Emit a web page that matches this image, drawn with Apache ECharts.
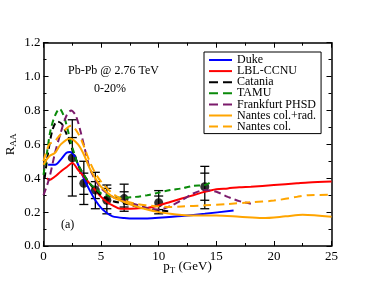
<!DOCTYPE html>
<html><head><meta charset="utf-8">
<script src="https://cdn.jsdelivr.net/npm/echarts@6/dist/echarts.min.js"></script>
<style>html,body{margin:0;padding:0;background:#fff}#c{width:374px;height:289px}</style>
</head><body><div id="c"></div>
<script>
const xTicks = [0,5,10,15,20,25];
const yTicks = [0.0,0.2,0.4,0.6,0.8,1.0,1.2];
const seriesNames = ["Duke","LBL-CCNU","Catania","TAMU","Frankfurt PHSD","Nantes col.+rad.","Nantes col."];
const duke = [[0.4,0.48],[1,0.48],[1.5,0.51],[2,0.55],[2.3,0.555],[2.7,0.53],[3,0.48],[3.5,0.40],[4,0.33],[4.5,0.27],[5,0.225],[5.5,0.195],[6,0.175],[7,0.165],[8,0.162],[9,0.163],[10,0.167],[12,0.177],[14,0.19],[16.5,0.21]];
const lbl = [[0.3,0.4],[0.5,0.39],[1,0.41],[1.5,0.44],[2,0.465],[2.5,0.49],[3,0.45],[3.5,0.41],[4,0.37],[4.5,0.33],[5,0.29],[5.5,0.26],[6,0.24],[6.7,0.22],[8,0.222],[9,0.225],[10,0.24],[11,0.26],[12,0.28],[13,0.3],[14,0.32],[15,0.335],[16,0.34],[17,0.347],[18,0.35],[20,0.36],[22,0.37],[23,0.375],[25,0.38]];
const catania = [[0.1,0.4],[0.4,0.55],[0.8,0.69],[1.2,0.735],[1.6,0.72],[2,0.66],[2.5,0.57],[3,0.48],[3.5,0.42],[4,0.37],[4.5,0.33],[5,0.3],[5.5,0.28],[6,0.265],[7,0.25],[8,0.235],[9,0.22],[10,0.21],[11,0.205]];
const tamu = [[0,0.42],[0.3,0.55],[0.6,0.68],[1,0.77],[1.4,0.81],[1.8,0.76],[2.2,0.66],[2.6,0.56],[3,0.48],[3.5,0.42],[4,0.37],[4.5,0.34],[5,0.31],[5.5,0.3],[6,0.29],[7,0.285],[8,0.29],[9,0.3],[10,0.315],[11,0.33],[12,0.34],[13,0.355],[14,0.36],[14.6,0.38]];
const phsd = [[0,0.3],[0.5,0.4],[1,0.55],[1.5,0.67],[2,0.77],[2.4,0.8],[2.8,0.77],[3.2,0.68],[3.6,0.57],[4,0.46],[4.5,0.39],[5,0.34],[6,0.29],[7,0.265],[8,0.245],[9,0.225],[10,0.215],[11,0.235],[12,0.27],[13,0.31],[14,0.33],[15,0.32],[16,0.29],[17,0.265],[18,0.25]];
const nantesCR = [[0,0.48],[0.5,0.53],[1,0.55],[1.5,0.6],[2.3,0.635],[3,0.6],[3.5,0.54],[4,0.46],[4.5,0.4],[5,0.35],[6,0.29],[7,0.26],[8,0.235],[9,0.215],[10,0.2],[11,0.19],[12,0.183],[13,0.18],[15,0.18],[17,0.173],[19,0.165],[21,0.175],[22.5,0.185],[25,0.172]];
const nantesC = [[0,0.5],[0.5,0.6],[1,0.62],[1.5,0.66],[2.4,0.71],[3,0.665],[3.5,0.59],[4,0.5],[4.5,0.43],[5,0.38],[6,0.31],[7,0.27],[8,0.25],[9,0.24],[10,0.233],[11,0.23],[12,0.233],[14,0.24],[16,0.248],[18,0.258],[20,0.268],[22,0.29],[23,0.3],[25,0.302]];
const dataX = [2.5,3.5,4.5,5.5,7,10,14];
const dataY = [0.52,0.37,0.33,0.27,0.28,0.255,0.35];
const sysLo = [0.295,0.245,0.22,0.19,0.205,0.19,0.22];
const sysHi = [0.745,0.5,0.435,0.36,0.365,0.327,0.47];
const statLo = [0.41,0.305,0.28,0.22,0.23,0.215,0.27];
const statHi = [0.64,0.43,0.38,0.34,0.32,0.295,0.43];

const FONT = "Liberation Serif";
const chart = echarts.init(document.getElementById('c'), null, {renderer:'canvas'});
const errData = dataX.map((x,i)=>[x,dataY[i],sysLo[i],sysHi[i],statLo[i],statHi[i]]);
const ptData = dataX.map((x,i)=>[x,dataY[i]]);

function mkAxisX(pos, labels){
  return {type:'value', position:pos, min:0, max:25, interval:5,
    axisLine:{show:true, onZero:false, lineStyle:{color:'#000', width:1.5}},
    axisTick:{show:true, inside:true, length:5, lineStyle:{color:'#000', width:1}},
    minorTick:{show:true, splitNumber:2, length:3, lineStyle:{color:'#000', width:1}},
    splitLine:{show:false},
    axisLabel:{show:labels, color:'#000', fontFamily:FONT, fontSize:13, margin:4,
      formatter:v=>xTicks.includes(v)?String(v):''},
  };
}
function mkAxisY(pos, labels){
  return {type:'value', position:pos, min:0, max:1.2, interval:0.2,
    axisLine:{show:true, onZero:false, lineStyle:{color:'#000', width:1.5}},
    axisTick:{show:true, inside:true, length:5, lineStyle:{color:'#000', width:1}},
    minorTick:{show:true, splitNumber:2, length:3, lineStyle:{color:'#000', width:1}},
    splitLine:{show:false},
    axisLabel:{show:labels, color:'#000', fontFamily:FONT, fontSize:13, margin:3,
      formatter:v=>{const t=yTicks.find(a=>Math.abs(a-v)<1e-6);return t===undefined?'':t.toFixed(1);}},
  };
}
const xa0 = mkAxisX('bottom', true);
xa0.name = 'p{sub|T} (GeV)';
xa0.nameLocation = 'middle';
xa0.nameGap = 13;
xa0.nameMoveOverlap = false;
xa0.nameTextStyle = {color:'#000', fontFamily:FONT, fontSize:13, verticalAlign:'top',
  rich:{sub:{fontFamily:FONT, fontSize:9, color:'#000', padding:[7,0,0,0], verticalAlign:'top'}}};
const ya0 = mkAxisY('left', true);
ya0.name = 'R{sub|AA}';
ya0.nameLocation = 'middle';
ya0.nameGap = 25;
ya0.nameMoveOverlap = false;
ya0.nameRotate = 90;
ya0.nameTextStyle = {color:'#000', fontFamily:FONT, fontSize:13,
  rich:{sub:{fontFamily:FONT, fontSize:9, color:'#000', padding:[7,0,0,0], verticalAlign:'top'}}};

const SOLID = 'path://M0,0H23V2H0Z';
const DASH = 'path://M0,0H9V2H0Z M14,0H23V2H14Z';
function line(name, data, color, dash){
  return {name, type:'line', data, symbol:'none', smooth:0.3, z:3,
    lineStyle:{color, width:2, type: dash||'solid'}, itemStyle:{color}};
}
const legendIcons = [SOLID, SOLID, DASH, DASH, DASH, SOLID, DASH];
const option = {
  animation:false,
  backgroundColor:'#fff',
  grid:{left:43.5, right:42.5, top:42.7, bottom:43, containLabel:false, outerBoundsMode:'none'},
  xAxis:[xa0, mkAxisX('top', false)],
  yAxis:[ya0, mkAxisY('right', false)],
  legend:{
    data:seriesNames.map((n,i)=>({name:n, icon:legendIcons[i]})),
    orient:'vertical', left:204, top:52,
    itemWidth:23, itemHeight:2, itemGap:-0.9, padding:[2,5,1,5],
    borderColor:'#000', borderWidth:1, backgroundColor:'#fff',
    textStyle:{color:'#000', fontFamily:FONT, fontSize:12, lineHeight:11},
    selectedMode:false
  },
  graphic:[
    {type:'text', left:68, top:65, style:{text:'Pb-Pb @ 2.76 TeV', font:'12px "Liberation Serif"', fill:'#000'}},
    {type:'text', left:94, top:83, style:{text:'0-20%', font:'12px "Liberation Serif"', fill:'#000'}},
    {type:'text', left:61, top:219, style:{text:'(a)', font:'12px "Liberation Serif"', fill:'#000'}}
  ],
  series:[
    {type:'custom', name:'err', z:2, data:errData, renderItem:function(params, api){
      const x=api.value(0);
      const pLo=api.coord([x,api.value(2)]), pHi=api.coord([x,api.value(3)]);
      const sLo=api.coord([x,api.value(4)]), sHi=api.coord([x,api.value(5)]);
      const w=4.5; const st={stroke:'#000', lineWidth:1.3};
      const cap=p=>({type:'line', shape:{x1:p[0]-w,y1:p[1],x2:p[0]+w,y2:p[1]}, style:st});
      return {type:'group', children:[
        {type:'line', shape:{x1:pLo[0],y1:pLo[1],x2:pHi[0],y2:pHi[1]}, style:st},
        cap(pLo), cap(pHi), cap(sLo), cap(sHi)
      ]};
    }},
    {type:'scatter', name:'ALICE', z:2, data:ptData, symbol:'circle', symbolSize:9, itemStyle:{color:'#000'}},
    line('Duke', duke, '#0000ff'),
    line('LBL-CCNU', lbl, '#ff0000'),
    line('Catania', catania, '#000000', [6,4]),
    line('TAMU', tamu, '#0a8a0a', [6,4]),
    line('Frankfurt PHSD', phsd, '#7b1a6b', [7,4]),
    line('Nantes col.+rad.', nantesCR, '#ffa500'),
    line('Nantes col.', nantesC, '#ffa500', [8,5])
  ]
};
chart.setOption(option);
</script></body></html>
